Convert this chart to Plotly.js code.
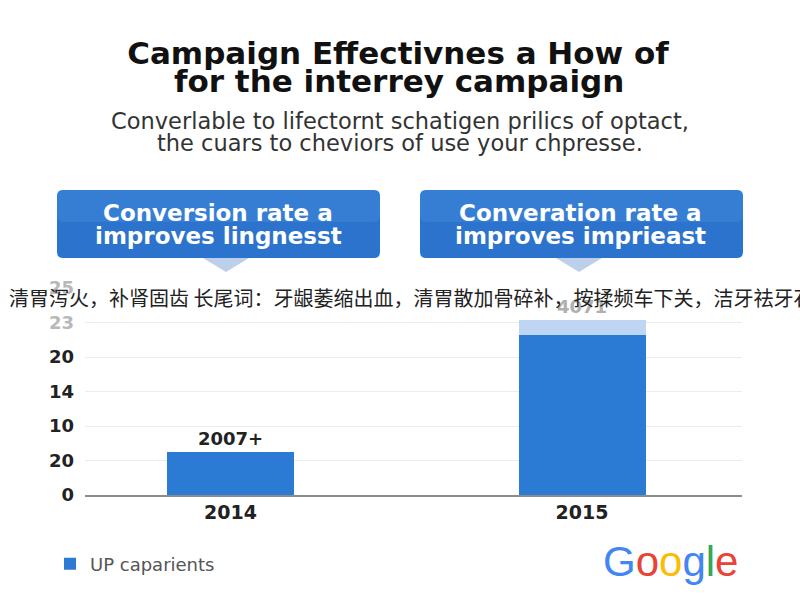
<!DOCTYPE html>
<html>
<head>
<meta charset="utf-8">
<script src="https://cdn.plot.ly/plotly-3.0.1.min.js"></script>
<style>html,body{margin:0;padding:0;background:#fff;}#chart{width:800px;height:600px;}</style>
</head>
<body>
<div id="chart"></div>
<script>
// ---- data ----
const years = ['2014', '2015'];
const baseValues = [1.25, 4.64];
const extraValues = [0, 0.43];
const totalLabels = ['2007+', '4071'];
const yTickVals = [0, 1, 2, 3, 4, 5, 6];
const yTickText = ['0', '20', '10', '14', '20', '23', '25'];
const legendName = 'UP caparients';
const titleLines = ['Campaign Effectivnes a How of', 'for the interrey campaign'];
const subtitleLines = ['Converlable to lifectornt schatigen prilics of optact,', 'the cuars to cheviors of use your chpresse.'];
const calloutLines = [
  ['Conversion rate a', 'improves lingnesst'],
  ['Converation rate a', 'improves imprieast']
];
const overlayText = '清胃泻火，补肾固齿 长尾词：牙龈萎缩出血，清胃散加骨碎补，按揉频车下关，洁牙祛牙石';

// ---- helpers (pixel -> paper) ----
const W = 800, H = 600;
const px = x => x / W;
const py = y => 1 - y / H;
function roundRect(x0, y0, x1, y1, r) {
  const rx = r / W, ry = r / H;
  const a = px(x0), b = px(x1), t = py(y0), u = py(y1);
  return `M${a+rx},${t} L${b-rx},${t} Q${b},${t} ${b},${t-ry} L${b},${u+ry} Q${b},${u} ${b-rx},${u} L${a+rx},${u} Q${a},${u} ${a},${u+ry} L${a},${t-ry} Q${a},${t} ${a+rx},${t} Z`;
}
function tri(xc, y0, half, y1) {
  return `M${px(xc-half)},${py(y0)} L${px(xc+half)},${py(y0)} L${px(xc)},${py(y1)} Z`;
}

const yText = yTickText.map((t, i) => i >= 5 ? `<span style="color:#b8b8b8">${t}</span>` : t);

const traces = [
  {
    type: 'bar', x: years, y: baseValues, name: legendName,
    marker: {color: '#2b7bd4'}, width: 0.361, showlegend: true,
    hoverinfo: 'x+y'
  },
  {
    type: 'bar', x: years, y: extraValues, name: 'extra',
    marker: {color: '#bed6f1'}, width: 0.361, showlegend: false,
    text: totalLabels, textposition: 'outside', cliponaxis: false,
    textfont: {family: 'DejaVu Sans', size: 18, weight: 'bold', color: ['#222222', '#b0b0b0']},
    hoverinfo: 'x+y'
  }
];

const titleFont = {family: 'DejaVu Sans', size: 31, color: '#111'};
const subFont = {family: 'DejaVu Sans', size: 22.5, color: '#333'};
const calloutFont = {family: 'DejaVu Sans', size: 23, color: '#fff'};

const annotations = [
  {text: '<b>' + titleLines[1] + '</b>', x: px(399), y: py(81), xref: 'paper', yref: 'paper', showarrow: false,
   xanchor: 'center', yanchor: 'middle', font: titleFont},
  {text: subtitleLines[0], x: px(400), y: py(121), xref: 'paper', yref: 'paper', showarrow: false,
   xanchor: 'center', yanchor: 'middle', font: subFont},
  {text: subtitleLines[1], x: px(400), y: py(143), xref: 'paper', yref: 'paper', showarrow: false,
   xanchor: 'center', yanchor: 'middle', font: subFont},
  {text: overlayText, x: px(7), y: py(298), xref: 'paper', yref: 'paper', showarrow: false,
   xanchor: 'left', yanchor: 'middle', font: {family: 'Noto Sans CJK SC', size: 20, color: '#222'}},
  {text: '<span style="color:#4285F4">G</span><span style="color:#EA4335">o</span><span style="color:#FBBC05">o</span><span style="color:#4285F4">g</span><span style="color:#34A853">l</span><span style="color:#EA4335">e</span>',
   x: px(670), y: py(561), xref: 'paper', yref: 'paper', showarrow: false,
   xanchor: 'center', yanchor: 'middle', font: {family: 'Liberation Sans', size: 42}}
];
const calloutCenters = [218, 580];
calloutLines.forEach((lines, i) => {
  annotations.push({text: '<b>' + lines[0] + '</b>', x: px(calloutCenters[i]), y: py(213), xref: 'paper', yref: 'paper',
    showarrow: false, xanchor: 'center', yanchor: 'middle', font: calloutFont});
  annotations.push({text: '<b>' + lines[1] + '</b>', x: px(calloutCenters[i]), y: py(236), xref: 'paper', yref: 'paper',
    showarrow: false, xanchor: 'center', yanchor: 'middle', font: calloutFont});
});

const shapes = [
  {type: 'path', xref: 'paper', yref: 'paper', path: roundRect(57, 190, 380, 258, 6), fillcolor: '#2c73cd', line: {width: 0}, layer: 'below'},
  {type: 'path', xref: 'paper', yref: 'paper', path: roundRect(420, 190, 743, 258, 6), fillcolor: '#2c73cd', line: {width: 0}, layer: 'below'},
  {type: 'path', xref: 'paper', yref: 'paper', path: roundRect(57, 190, 380, 222, 6), fillcolor: '#4a93e3', opacity: 0.35, line: {width: 0}, layer: 'below'},
  {type: 'path', xref: 'paper', yref: 'paper', path: roundRect(420, 190, 743, 222, 6), fillcolor: '#4a93e3', opacity: 0.35, line: {width: 0}, layer: 'below'},
  {type: 'path', xref: 'paper', yref: 'paper', path: tri(226, 258, 23, 272), fillcolor: '#bcd0ec', line: {width: 0}, layer: 'below'},
  {type: 'path', xref: 'paper', yref: 'paper', path: tri(579, 258, 23, 272), fillcolor: '#bcd0ec', line: {width: 0}, layer: 'below'}
];

const layout = {
  width: W, height: H,
  margin: {l: 0, r: 0, t: 0, b: 0},
  paper_bgcolor: '#ffffff', plot_bgcolor: '#ffffff',
  title: {text: '<b>' + titleLines[0] + '</b>', x: px(398), xanchor: 'center', y: py(53), yanchor: 'middle',
          font: titleFont},
  barmode: 'stack',
  xaxis: {domain: [px(85), px(742)], range: [-0.414, 1.455], type: 'category',
          showline: true, linecolor: '#8c8c8c', linewidth: 1.5, showgrid: false, zeroline: false,
          ticks: '', tickfont: {family: 'DejaVu Sans', size: 19, weight: 'bold', color: '#222'}},
  yaxis: {domain: [py(495), py(288)], range: [0, 6], tickvals: yTickVals, ticktext: yText,
          showgrid: true, gridcolor: '#ececec', gridwidth: 1, zeroline: false, showline: false, ticks: '',
          ticklabelstandoff: 10,
          tickfont: {family: 'DejaVu Sans', size: 18, weight: 'bold', color: '#222'}},
  showlegend: true,
  legend: {x: px(50), y: py(564), xanchor: 'left', yanchor: 'middle', bgcolor: 'rgba(0,0,0,0)',
           font: {family: 'DejaVu Sans', size: 18, color: '#555'}},
  annotations: annotations,
  shapes: shapes
};

Plotly.newPlot('chart', traces, layout, {displayModeBar: false, staticPlot: true});
</script>
</body>
</html>
